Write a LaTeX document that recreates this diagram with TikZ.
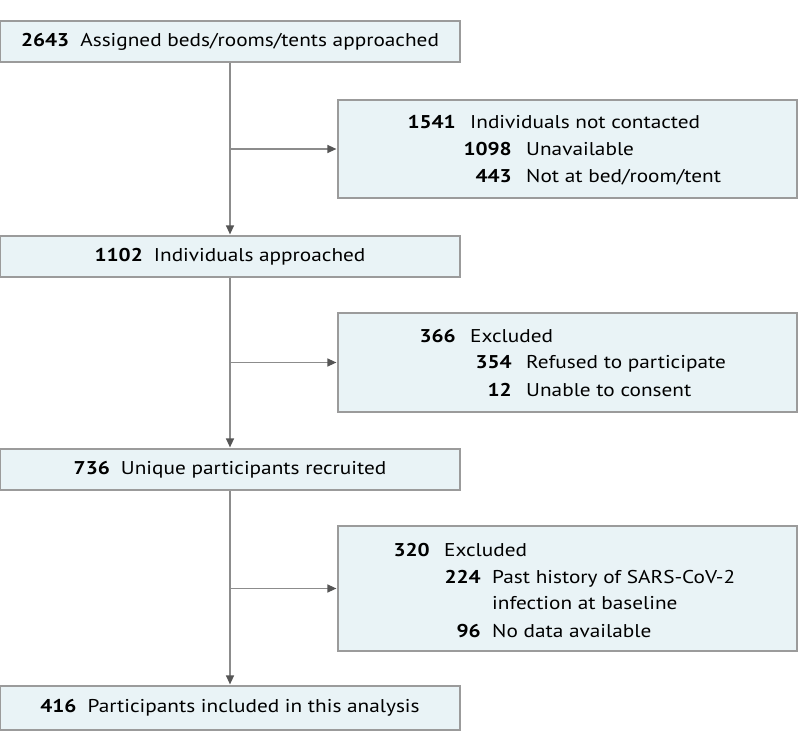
\documentclass[tikz,border=0pt]{standalone}
\usepackage{fontspec}
\setmainfont{PT Sans}[FakeStretch=1.15]
\usetikzlibrary{arrows.meta,positioning,calc}
\definecolor{boxfill}{RGB}{233,243,246}
\definecolor{boxline}{RGB}{155,155,155}
\definecolor{flowline}{RGB}{140,140,140}
\definecolor{tipgray}{RGB}{85,85,85}
\tikzset{
  mainbox/.style={draw=boxline, fill=boxfill, line width=1.2pt, minimum width=460pt,
    minimum height=41pt, inner sep=0pt, font=\fontsize{18.5}{22}\selectfont},
  sidebox/.style={draw=boxline, fill=boxfill, line width=1.2pt, minimum width=459pt, inner sep=0pt},
  num/.style={anchor=base east, inner sep=0pt, font=\fontsize{18.5}{22}\selectfont\bfseries},
  lbl/.style={anchor=base west, inner sep=0pt, font=\fontsize{18.5}{22}\selectfont},
  flow/.style={draw=flowline, line width=1.3pt, shorten >=1pt,
    -{Triangle[length=9pt,width=8pt,color=tipgray]}}
}

\begin{document}
\begin{tikzpicture}[x=1pt,y=-1pt]
  \useasboundingbox (0,0) rectangle (798,751);
  % Main flow
  \node[mainbox] (assigned) at (230,41.5) {\textbf{2643}\hspace{0.6em}Assigned beds/rooms/tents approached};
  \node[mainbox] (approached) at (230,256.5) {\textbf{1102}\hspace{0.6em}Individuals approached};
  \node[mainbox] (recruited) at (230,469.5) {\textbf{736}\hspace{0.6em}Unique participants recruited};
  \node[mainbox, minimum height=44pt] (included) at (230,708) {\textbf{416}\hspace{0.6em}Participants included in this analysis};
  % Side boxes
  \node[sidebox, minimum height=98pt] (notcontacted) at (567.5,149) {};
  \node[sidebox, minimum height=99pt] (excludedA) at (567.5,362.5) {};
  \node[sidebox, minimum height=125pt] (excludedB) at (567.5,588.5) {};
  % Not contacted
  \node[num] (n1541) at (456,129) {1541};
  \node[lbl] (t1541) at (470,129) {Individuals not contacted};
  \node[num] (n1098) at (512,156) {1098};
  \node[lbl] (t1098) at (526,156) {Unavailable};
  \node[num] (n443) at (512,183) {443};
  \node[lbl] (t443) at (526,183) {Not at bed/room/tent};
  % Excluded after approach
  \node[num] (n366) at (456,342) {366};
  \node[lbl] (t366) at (470,342) {Excluded};
  \node[num] (n354) at (512,369) {354};
  \node[lbl] (t354) at (526,369) {Refused to participate};
  \node[num] (n12) at (512,396) {12};
  \node[lbl] (t12) at (526,396) {Unable to consent};
  % Excluded after recruitment
  \node[num] (n320) at (430,556) {320};
  \node[lbl] (t320) at (444,556) {Excluded};
  \node[num] (n224) at (481,583) {224};
  \node[lbl] (t224) at (492,583) {Past history of SARS-CoV-2};
  \node[lbl] (t224b) at (492,609) {infection at baseline};
  \node[num] (n96) at (481,637) {96};
  \node[lbl] (t96) at (492,637) {No data available};
  % Connectors
  \draw[flow] (assigned) -- (approached);
  \draw[flow] (approached) -- (recruited);
  \draw[flow] (recruited) -- (included);
  \coordinate (jA) at (assigned.south |- notcontacted.west);
  \coordinate (jB) at (approached.south |- excludedA.west);
  \coordinate (jC) at (recruited.south |- excludedB.west);
  \draw[flow] (jA) -- (notcontacted);
  \draw[flow] (jB) -- (excludedA);
  \draw[flow] (jC) -- (excludedB);
\end{tikzpicture}
\end{document}
